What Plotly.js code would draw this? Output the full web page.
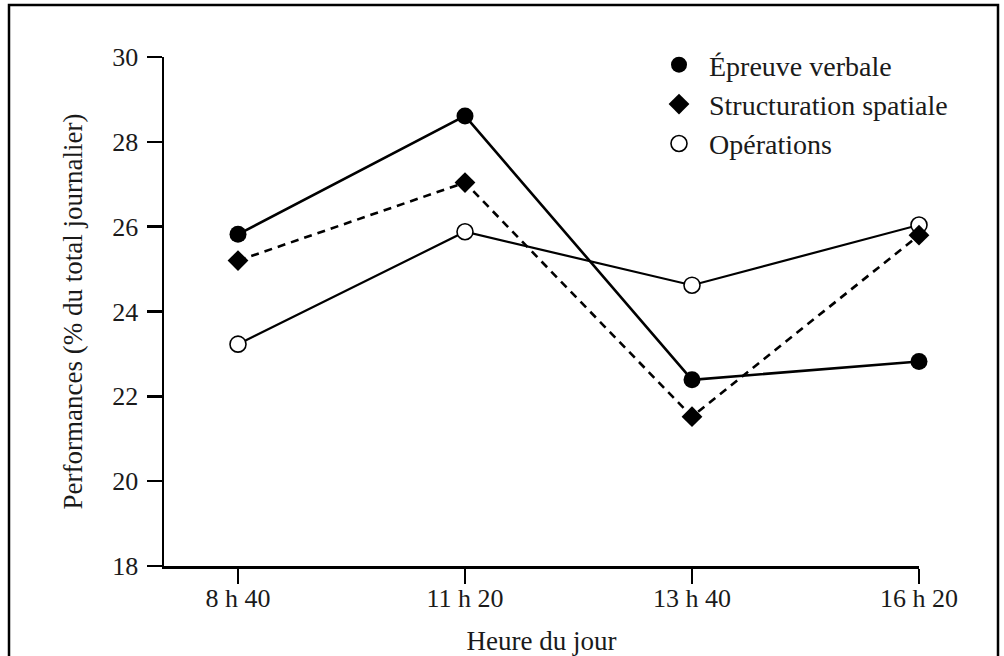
<!DOCTYPE html>
<html>
<head>
<meta charset="utf-8">
<script src="https://cdn.plot.ly/plotly-3.0.1.min.js"></script>
<style>
  html, body { margin: 0; padding: 0; background: #fff; }
  #chart { width: 1004px; height: 656px; }
</style>
</head>
<body>
<div id="chart"></div>
<script>
// Data
const hours = ["8 h 40", "11 h 20", "13 h 40", "16 h 20"];
const verbale = [25.82, 28.61, 22.39, 22.82];
const spatiale = [25.20, 27.04, 21.52, 25.80];
const operations = [23.23, 25.88, 24.62, 26.04];
const seriesNames = ["Épreuve verbale", "Structuration spatiale", "Opérations"];
const yTicks = [18, 20, 22, 24, 26, 28, 30];

const FONT = "Liberation Serif, Times New Roman, serif";
const INK = "#1a1a1a";

const lineTraces = [
  { x: hours, y: verbale, mode: "lines", line: { color: "#000", width: 2.6 }, showlegend: false, hoverinfo: "skip", cliponaxis: false },
  { x: hours, y: spatiale, mode: "lines", line: { color: "#000", width: 2.6, dash: "8px,6px" }, showlegend: false, hoverinfo: "skip", cliponaxis: false },
  { x: hours, y: operations, mode: "lines", line: { color: "#000", width: 2.2 }, showlegend: false, hoverinfo: "skip", cliponaxis: false }
];

const markerTraces = [
  { x: hours, y: operations, name: seriesNames[2], mode: "markers", legendrank: 3, cliponaxis: false,
    marker: { symbol: "circle", size: 16, color: "#fff", line: { color: "#000", width: 1.6 } } },
  { x: hours, y: verbale, name: seriesNames[0], mode: "markers", legendrank: 1, cliponaxis: false,
    marker: { symbol: "circle", size: 17, color: "#000", line: { width: 0 } } },
  { x: hours, y: spatiale, name: seriesNames[1], mode: "markers", legendrank: 2, cliponaxis: false,
    marker: { symbol: "diamond", size: 16, color: "#000", line: { width: 0 } } }
];

const plotL = 164, plotR = 919, plotT = 57, plotB = 566;
const W = 1004, H = 656;
const pw = plotR - plotL, ph = plotB - plotT;
const px = v => (v - plotL) / pw;
const py = v => (plotB - v) / ph;

const layout = {
  width: W, height: H,
  margin: { l: plotL, r: W - plotR, t: plotT, b: H - plotB, pad: 0 },
  paper_bgcolor: "#fff",
  plot_bgcolor: "#fff",
  font: { family: FONT, color: INK, size: 26 },
  showlegend: true,
  legend: {
    x: px(649), y: py(40), xanchor: "left", yanchor: "top",
    bgcolor: "rgba(0,0,0,0)", borderwidth: 0,
    font: { family: FONT, size: 28, color: INK },
    itemwidth: 50,
    traceorder: "normal"
  },
  xaxis: {
    type: "category",
    range: [-0.326, 3],
    showgrid: false, zeroline: false,
    showline: true, linecolor: "#000", linewidth: 2.5,
    ticks: "outside", ticklen: 15, tickwidth: 2.5, tickcolor: "#000",
    ticklabelstandoff: -8,
    tickfont: { family: FONT, size: 26, color: INK },
    title: { text: "Heure du jour", font: { family: FONT, size: 27, color: INK }, standoff: 20 },
    fixedrange: true
  },
  yaxis: {
    range: [18, 30],
    tickvals: yTicks,
    showgrid: false, zeroline: false,
    showline: true, linecolor: "#000", linewidth: 2.5,
    ticks: "outside", ticklen: 15, tickwidth: 2.5, tickcolor: "#000",
    ticklabelstandoff: 3,
    tickfont: { family: FONT, size: 26, color: INK },
    title: { text: "Performances (% du total journalier)", font: { family: FONT, size: 27, color: INK }, standoff: 22 },
    fixedrange: true
  },
  shapes: [
    { type: "rect", xref: "paper", yref: "paper",
      x0: px(9), x1: px(998), y0: py(672), y1: py(5),
      line: { color: "#000", width: 2.5 }, fillcolor: "rgba(0,0,0,0)", layer: "below" }
  ]
};

Plotly.newPlot("chart", lineTraces.concat(markerTraces), layout, { displayModeBar: false, staticPlot: true });
</script>
</body>
</html>
